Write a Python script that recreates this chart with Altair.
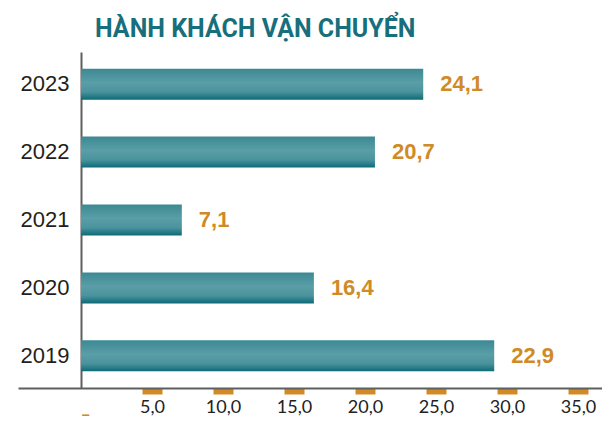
import altair as alt
import pandas as pd

# Data
years = ["2019", "2020", "2021", "2022", "2023"]
bar_values = [29.1, 16.4, 7.1, 20.7, 24.1]          # bar lengths as drawn on the axis
label_text = ["22,9", "16,4", "7,1", "20,7", "24,1"]  # value labels as printed
tick_values = [0, 5, 10, 15, 20, 25, 30, 35]
title_text = "HÀNH KHÁCH VẬN CHUYỂN"

df = pd.DataFrame({"year": years, "value": bar_values, "label": label_text})

TEAL = "#176f7e"
ORANGE = "#d08a26"
W, H = 584, 336

x_scale = alt.Scale(domain=[-4.437, 36.69], nice=False, zero=False)
y_scale = alt.Scale(paddingInner=0.543, paddingOuter=0.245)
y_sort = ["2023", "2022", "2021", "2020", "2019"]

grad = alt.Gradient(
    gradient="linear",
    stops=[
        alt.GradientStop(color="#3c8993", offset=0),
        alt.GradientStop(color="#5a9ea7", offset=0.45),
        alt.GradientStop(color="#4a939d", offset=0.75),
        alt.GradientStop(color="#0c6a77", offset=1),
    ],
    x1=0, x2=0, y1=0, y2=1,
)

x_axis = alt.Axis(
    values=tick_values,
    title=None,
    grid=False,
    domainColor="#5f5f5f",
    domainWidth=2,
    tickColor={"condition": {"test": "datum.value == 0", "value": "transparent"}, "value": ORANGE},
    tickSize=6,
    tickWidth=20,
    labelExpr="datum.value == 0 ? '_' : replace(format(datum.value, '.1f'), '.', ',')",
    labelFont="Lato",
    labelFontSize=18,
    labelColor={"condition": {"test": "datum.value == 0", "value": ORANGE}, "value": "#222222"},
    labelFontWeight={"condition": {"test": "datum.value == 0", "value": "bold"}, "value": "normal"},
    labelAlign={"condition": {"test": "datum.value == 0", "value": "left"}, "value": "center"},
    labelPadding=4,
    labelFlush=False,
    labelOverlap=False,
)

y_axis = alt.Axis(
    title=None,
    offset=-63,
    domainColor="#5f5f5f",
    domainWidth=2,
    ticks=False,
    labelFont="Liberation Sans",
    labelFontSize=22,
    labelColor="#231f20",
    labelPadding=12,
)

base = alt.Chart(df)

bars = base.mark_bar(color=grad).encode(
    x=alt.X("value:Q", scale=x_scale, axis=x_axis),
    y=alt.Y("year:N", sort=y_sort, scale=y_scale, axis=y_axis),
)

labels = base.mark_text(
    align="left", baseline="middle", dx=17,
    font="Liberation Sans", fontSize=22, fontWeight="bold", color=ORANGE,
).encode(
    x=alt.X("value:Q", scale=x_scale),
    y=alt.Y("year:N", sort=y_sort, scale=y_scale),
    text="label:N",
)

chart = (
    alt.layer(bars, labels)
    .properties(
        width=W,
        height=H,
        autosize=alt.AutoSizeParams(type="none"),
        padding={"left": 10, "top": 44, "right": 0, "bottom": 29},
        title=alt.TitleParams(
            title_text,
            anchor="start",
            frame="group",
            font="Roboto",
            fontSize=25,
            fontWeight="bold",
            color=TEAL,
            baseline="alphabetic",
            offset=16,
            dx=77,
            dy=26,
        ),
    )
    .configure(background="white")
    .configure_view(strokeWidth=0, stroke="transparent")
)

chart.save("out.html", embed_options={"renderer": "svg", "actions": False})
